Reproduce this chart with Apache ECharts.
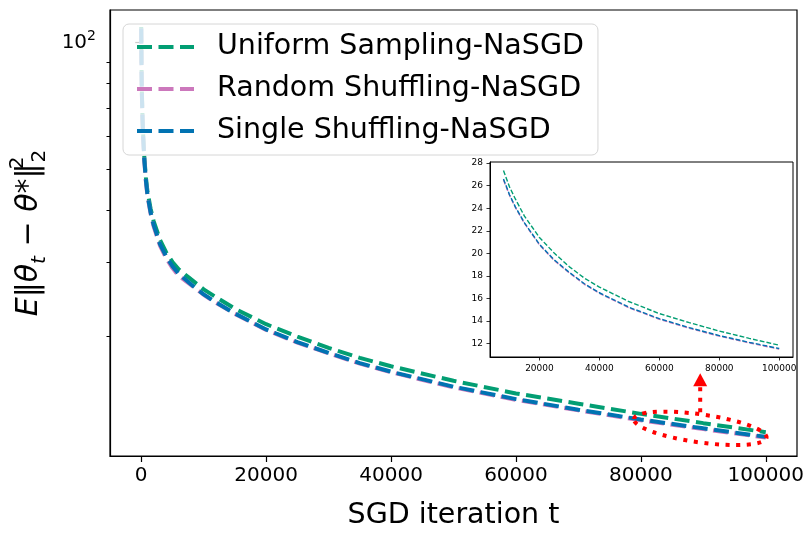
<!DOCTYPE html>
<html>
<head>
<meta charset="utf-8">
<script src="https://cdn.jsdelivr.net/npm/echarts@6/dist/echarts.min.js"></script>
<style>
  html, body { margin: 0; padding: 0; background: #fff; }
  #chart { width: 807px; height: 540px; }
</style>
</head>
<body>
<div id="chart"></div>
<script>
// ---------------------- Data ----------------------
let iters = [0, 50, 100, 200, 300, 500, 750, 1000, 1500, 2000, 3000, 4000, 5000, 6000,
             8000, 10000, 12000, 15000, 20000, 25000, 30000, 35000, 40000, 50000,
             60000, 70000, 80000, 90000, 100000];
let uniform_vals = [109, 87, 77, 67, 61, 53.3, 47.8, 44.3, 40.3, 37.6, 34.0, 31.7, 30.1, 28.9,
                    27.35, 25.9, 24.8, 23.3, 21.4, 20.0, 18.8, 17.8, 17.0, 15.7,
                    14.65, 13.85, 13.1, 12.45, 11.85];
let random_vals = [108, 85.5, 75.5, 65.6, 59.6, 52.2, 46.7, 43.2, 39.2, 36.5, 32.9, 30.7, 29.1, 27.9,
                   26.5, 25.15, 24.05, 22.65, 20.75, 19.35, 18.25, 17.25, 16.45, 15.15,
                   14.15, 13.35, 12.65, 12.05, 11.5];
let single_vals = [108, 86, 76, 66, 60, 52.5, 47, 43.5, 39.5, 36.8, 33.2, 31.0, 29.4, 28.2,
                   26.6, 25.2, 24.1, 22.7, 20.8, 19.4, 18.3, 17.3, 16.5, 15.2,
                   14.2, 13.4, 12.7, 12.1, 11.55];
let series_names = ['Uniform Sampling-NaSGD', 'Random Shuffling-NaSGD', 'Single Shuffling-NaSGD'];
let series_colors = ['#029e73', '#cc78bc', '#0173b2'];
let x_ticks = [0, 20000, 40000, 60000, 80000, 100000];
let y_minor_ticks = [20, 30, 40, 50, 60, 70, 80, 90];
let y_major_ticks = [100];
let inset_x_ticks = [20000, 40000, 60000, 80000, 100000];
let inset_y_ticks = [12, 14, 16, 18, 20, 22, 24, 26, 28];
let inset_start = 8000;
// annotation: ellipse around the tail of the curves (data coords)
let zoom_center = [89500, 12.1];

// -------------------- Helpers --------------------
let font = 'DejaVu Sans';
function to_pairs(xs, ys, from) {
    let out = [];
    for (let i = 0; i < xs.length; i++) {
        if (xs[i] >= from) out.push([xs[i], ys[i]]);
    }
    return out;
}
function plain(v) { return String(v); }
let all_vals = [uniform_vals, random_vals, single_vals];

let chart = echarts.init(document.getElementById('chart'));

// -------------------- Series --------------------
let series_list = [];
for (let k = 0; k < 3; k++) {
    series_list.push({
        name: series_names[k],
        type: 'line',
        xAxisIndex: 0, yAxisIndex: 0,
        symbol: 'none',
        data: to_pairs(iters, all_vals[k], 0),
        lineStyle: {color: series_colors[k], width: 4, type: [15, 6.5], cap: 'butt'},
        itemStyle: {color: series_colors[k]}
    });
}
for (let k = 0; k < 3; k++) {
    series_list.push({
        type: 'line',
        xAxisIndex: 1, yAxisIndex: 1,
        symbol: 'none',
        data: to_pairs(iters, all_vals[k], inset_start),
        lineStyle: {color: series_colors[k], width: 1.4, type: [4.8, 2.1]}
    });
}

let tick_font = {fontFamily: font, color: '#000'};

let option = {
    animation: false,
    backgroundColor: '#fff',
    grid: [
        {left: 108, top: 10, right: 10, bottom: 84, show: true, borderColor: '#000', borderWidth: 1.2},
        {left: 490, top: 162, right: 14, bottom: 183, show: true, borderColor: '#000', borderWidth: 1,
         backgroundColor: '#fff'}
    ],
    legend: {
        orient: 'vertical', left: 123, top: 24, z: 10,
        padding: [8, 14, 9, 12],
        itemWidth: 57, itemHeight: 14, itemGap: 12,
        backgroundColor: 'rgba(255,255,255,0.8)',
        borderColor: '#d6d6d6', borderWidth: 1, borderRadius: 6,
        selectedMode: false,
        itemStyle: {opacity: 0},
        lineStyle: {width: 4, type: [15, 6.5], cap: 'butt'},
        textStyle: {fontFamily: font, fontSize: 28.5, color: '#000', lineHeight: 30, padding: [0, 0, 0, 18]},
        data: series_names
    },
    xAxis: [
        {
            gridIndex: 0, type: 'value', min: -5000, max: 105000,
            splitLine: {show: false},
            axisLine: {show: true, onZero: false, lineStyle: {color: '#000', width: 1.2}},
            axisTick: {show: true, length: 6, customValues: x_ticks, lineStyle: {color: '#000', width: 1.2}},
            axisLabel: Object.assign({customValues: x_ticks, fontSize: 20, margin: 10, formatter: plain}, tick_font),
            name: 'SGD iteration t', nameLocation: 'middle', nameGap: 45,
            nameTextStyle: {fontFamily: font, fontSize: 28.5, color: '#000'}
        },
        {
            gridIndex: 1, type: 'value', min: 3500, max: 104600,
            splitLine: {show: false},
            axisLine: {show: true, onZero: false, lineStyle: {color: '#000', width: 1}},
            axisTick: {show: true, length: 3.5, customValues: inset_x_ticks, lineStyle: {color: '#000', width: 0.8}},
            axisLabel: Object.assign({customValues: inset_x_ticks, fontSize: 9, margin: 7, formatter: plain}, tick_font)
        }
    ],
    yAxis: [
        {
            gridIndex: 0, type: 'log', logBase: 10, min: 10.4, max: 119.6, position: 'left',
            splitLine: {show: false},
            axisLine: {show: true, onZero: false, lineStyle: {color: '#000', width: 1.2}},
            axisTick: {show: true, length: 3.5, customValues: y_minor_ticks, lineStyle: {color: '#000', width: 1}},
            axisLabel: {show: false},
            name: '{i|E}{n|‖}{i|θ}{sb|t}{n| − }{i|θ}{n|*‖}{sp|2}{s2|2}',
            nameLocation: 'middle', nameRotate: 90, nameGap: 60,
            nameTextStyle: {
                fontFamily: font, fontSize: 30, color: '#000',
                rich: {
                    i: {fontFamily: font, fontSize: 30, fontStyle: 'italic', lineHeight: 42},
                    n: {fontFamily: font, fontSize: 30, lineHeight: 42},
                    sb: {fontFamily: font, fontSize: 20, fontStyle: 'italic', verticalAlign: 'bottom', lineHeight: 20},
                    sp: {fontFamily: font, fontSize: 20, verticalAlign: 'top', lineHeight: 20, width: 1},
                    s2: {fontFamily: font, fontSize: 20, verticalAlign: 'bottom', lineHeight: 20}
                }
            }
        },
        {
            gridIndex: 1, type: 'value', min: 10.8, max: 28.1,
            splitLine: {show: false},
            axisLine: {show: true, onZero: false, lineStyle: {color: '#000', width: 1}},
            axisTick: {show: true, length: 3.5, customValues: inset_y_ticks, lineStyle: {color: '#000', width: 0.8}},
            axisLabel: Object.assign({customValues: inset_y_ticks, fontSize: 9, margin: 7}, tick_font)
        },
        {
            gridIndex: 0, type: 'log', logBase: 10, min: 10.4, max: 119.6, position: 'left',
            splitLine: {show: false},
            axisLine: {show: false},
            axisTick: {show: true, length: 6, customValues: y_major_ticks, lineStyle: {color: '#000', width: 1.2}},
            axisLabel: {
                customValues: y_major_ticks, margin: 14,
                formatter: function () { return '{b|10}{s|2}'; },
                rich: {
                    b: {fontFamily: font, fontSize: 20, color: '#000', lineHeight: 26},
                    s: {fontFamily: font, fontSize: 14, color: '#000', verticalAlign: 'top', lineHeight: 14}
                }
            }
        }
    ],
    series: series_list
};
chart.setOption(option);

// ------------------ Annotation ------------------
let c = chart.convertToPixel({xAxisIndex: 0, yAxisIndex: 0}, zoom_center);
let dot = {stroke: 'red', lineWidth: 4, lineDash: [4, 6.6], fill: 'none'};
chart.setOption({
    graphic: [
        {type: 'ellipse', x: c[0], y: c[1], rotation: -0.14,
         shape: {cx: 0, cy: 0, rx: 67, ry: 14}, style: dot, z: 20},
        {type: 'polyline', shape: {points: [[c[0], c[1] - 16], [c[0], c[1] - 42]]}, style: dot, z: 20},
        {type: 'polygon', shape: {points: [[c[0] - 7, c[1] - 42], [c[0] + 7, c[1] - 42], [c[0], c[1] - 55]]},
         style: {fill: 'red'}, z: 20}
    ]
});
</script>
</body>
</html>
